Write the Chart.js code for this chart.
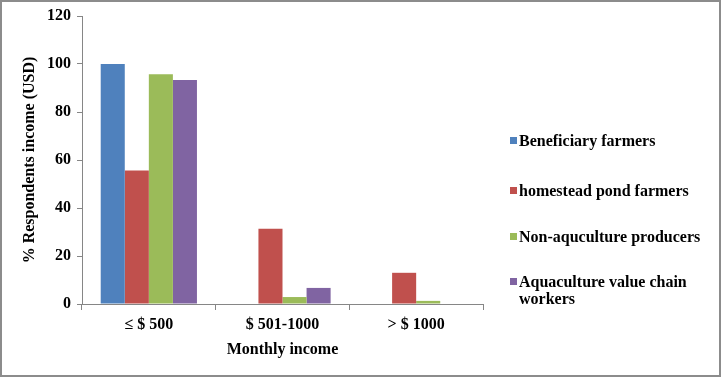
<!DOCTYPE html>
<html>
<head>
<meta charset="utf-8">
<script src="https://cdn.jsdelivr.net/npm/chart.js@4/dist/chart.umd.min.js"></script>
<style>
    html, body { margin: 0; padding: 0; background: #fff; }
    #wrap {
        position: relative;
        width: 721px;
        height: 377px;
        box-sizing: border-box;
        border: 2px solid #8c8c8c;
    }
    #incomeChart { position: absolute; left: -2px; top: -2px; }
    #legend {
        position: absolute;
        left: 508px;
        top: 0;
        font: bold 16px "Liberation Serif", "Times New Roman", serif;
        color: #000;
    }
    .item { position: absolute; left: 0; width: 210px; line-height: 17px; }
    .box { position: absolute; left: 0; top: 5px; width: 7px; height: 7px; }
    .txt { margin-left: 9px; white-space: nowrap; }
</style>
</head>
<body>
<div id="wrap">
    <canvas id="incomeChart" width="721" height="377"></canvas>
    <div id="legend"></div>
</div>
<script>
var categories = ["\u2264 $ 500", "$ 501-1000", "> $ 1000"];
var beneficiary = [100, 0, 0];
var homestead = [55.6, 31.4, 13.0];
var nonAqua = [95.7, 2.9, 1.3];
var valueChain = [93.3, 6.7, 0];
var yTicks = [0, 20, 40, 60, 80, 100, 120];

var seriesNames = [
    "Beneficiary farmers",
    "homestead pond farmers",
    "Non-aquculture producers",
    ["Aquaculture value chain", "workers"],
];
var seriesColors = ["#4F81BD", "#C0504D", "#9BBB59", "#8064A2"];
var seriesData = [beneficiary, homestead, nonAqua, valueChain];

var font = { family: "'Liberation Serif', 'Times New Roman', serif", weight: "bold", size: 16 };
var tickFont = { family: "'Liberation Serif', 'Times New Roman', serif", weight: "bold", size: 16 };

var datasets = seriesData.map(function (d, i) {
    return {
        label: Array.isArray(seriesNames[i]) ? seriesNames[i].join(" ") : seriesNames[i],
        data: d,
        backgroundColor: seriesColors[i],
        borderWidth: 0,
    };
});

var ctx = document.getElementById("incomeChart").getContext("2d");
var incomeChart = new Chart(ctx, {
    type: "bar",
    data: { labels: categories, datasets: datasets },
    options: {
        responsive: false,
        animation: false,
        layout: { padding: { top: 16, right: 238, left: 16, bottom: 18 } },
        datasets: { bar: { categoryPercentage: 0.72, barPercentage: 1.0 } },
        scales: {
            x: {
                grid: { display: true, drawOnChartArea: false, color: "#868686", tickLength: 6, offset: true },
                border: { color: "#868686", width: 1 },
                ticks: { color: "#000", font: tickFont, padding: 5 },
                title: { display: true, text: "Monthly income", color: "#000", font: font, padding: { top: 2, bottom: 0 } },
                afterFit: function (axis) { axis.height = 55; },
            },
            y: {
                min: 0,
                max: 120,
                afterBuildTicks: function (axis) {
                    axis.ticks = yTicks.map(function (v) { return { value: v }; });
                },
                grid: { display: true, drawOnChartArea: false, color: "#868686", tickLength: 5 },
                border: { color: "#868686", width: 1 },
                ticks: { color: "#000", font: tickFont, padding: 6 },
                title: { display: true, text: "% Respondents income (USD)", color: "#000", font: font, padding: { bottom: 4 } },
                afterFit: function (axis) { axis.width = 66; },
            },
        },
        plugins: {
            legend: { display: false },
            tooltip: { enabled: false },
        },
    },
});

// legend on the right, built from the series arrays
var legendTops = [130, 180, 226, 271];
var legendEl = document.getElementById("legend");
seriesNames.forEach(function (name, i) {
    var item = document.createElement("div");
    item.className = "item";
    item.style.top = legendTops[i] + "px";
    var box = document.createElement("div");
    box.className = "box";
    box.style.background = seriesColors[i];
    var txt = document.createElement("div");
    txt.className = "txt";
    txt.innerHTML = Array.isArray(name) ? name.join("<br>") : name;
    item.appendChild(box);
    item.appendChild(txt);
    legendEl.appendChild(item);
});
</script>
</body>
</html>
